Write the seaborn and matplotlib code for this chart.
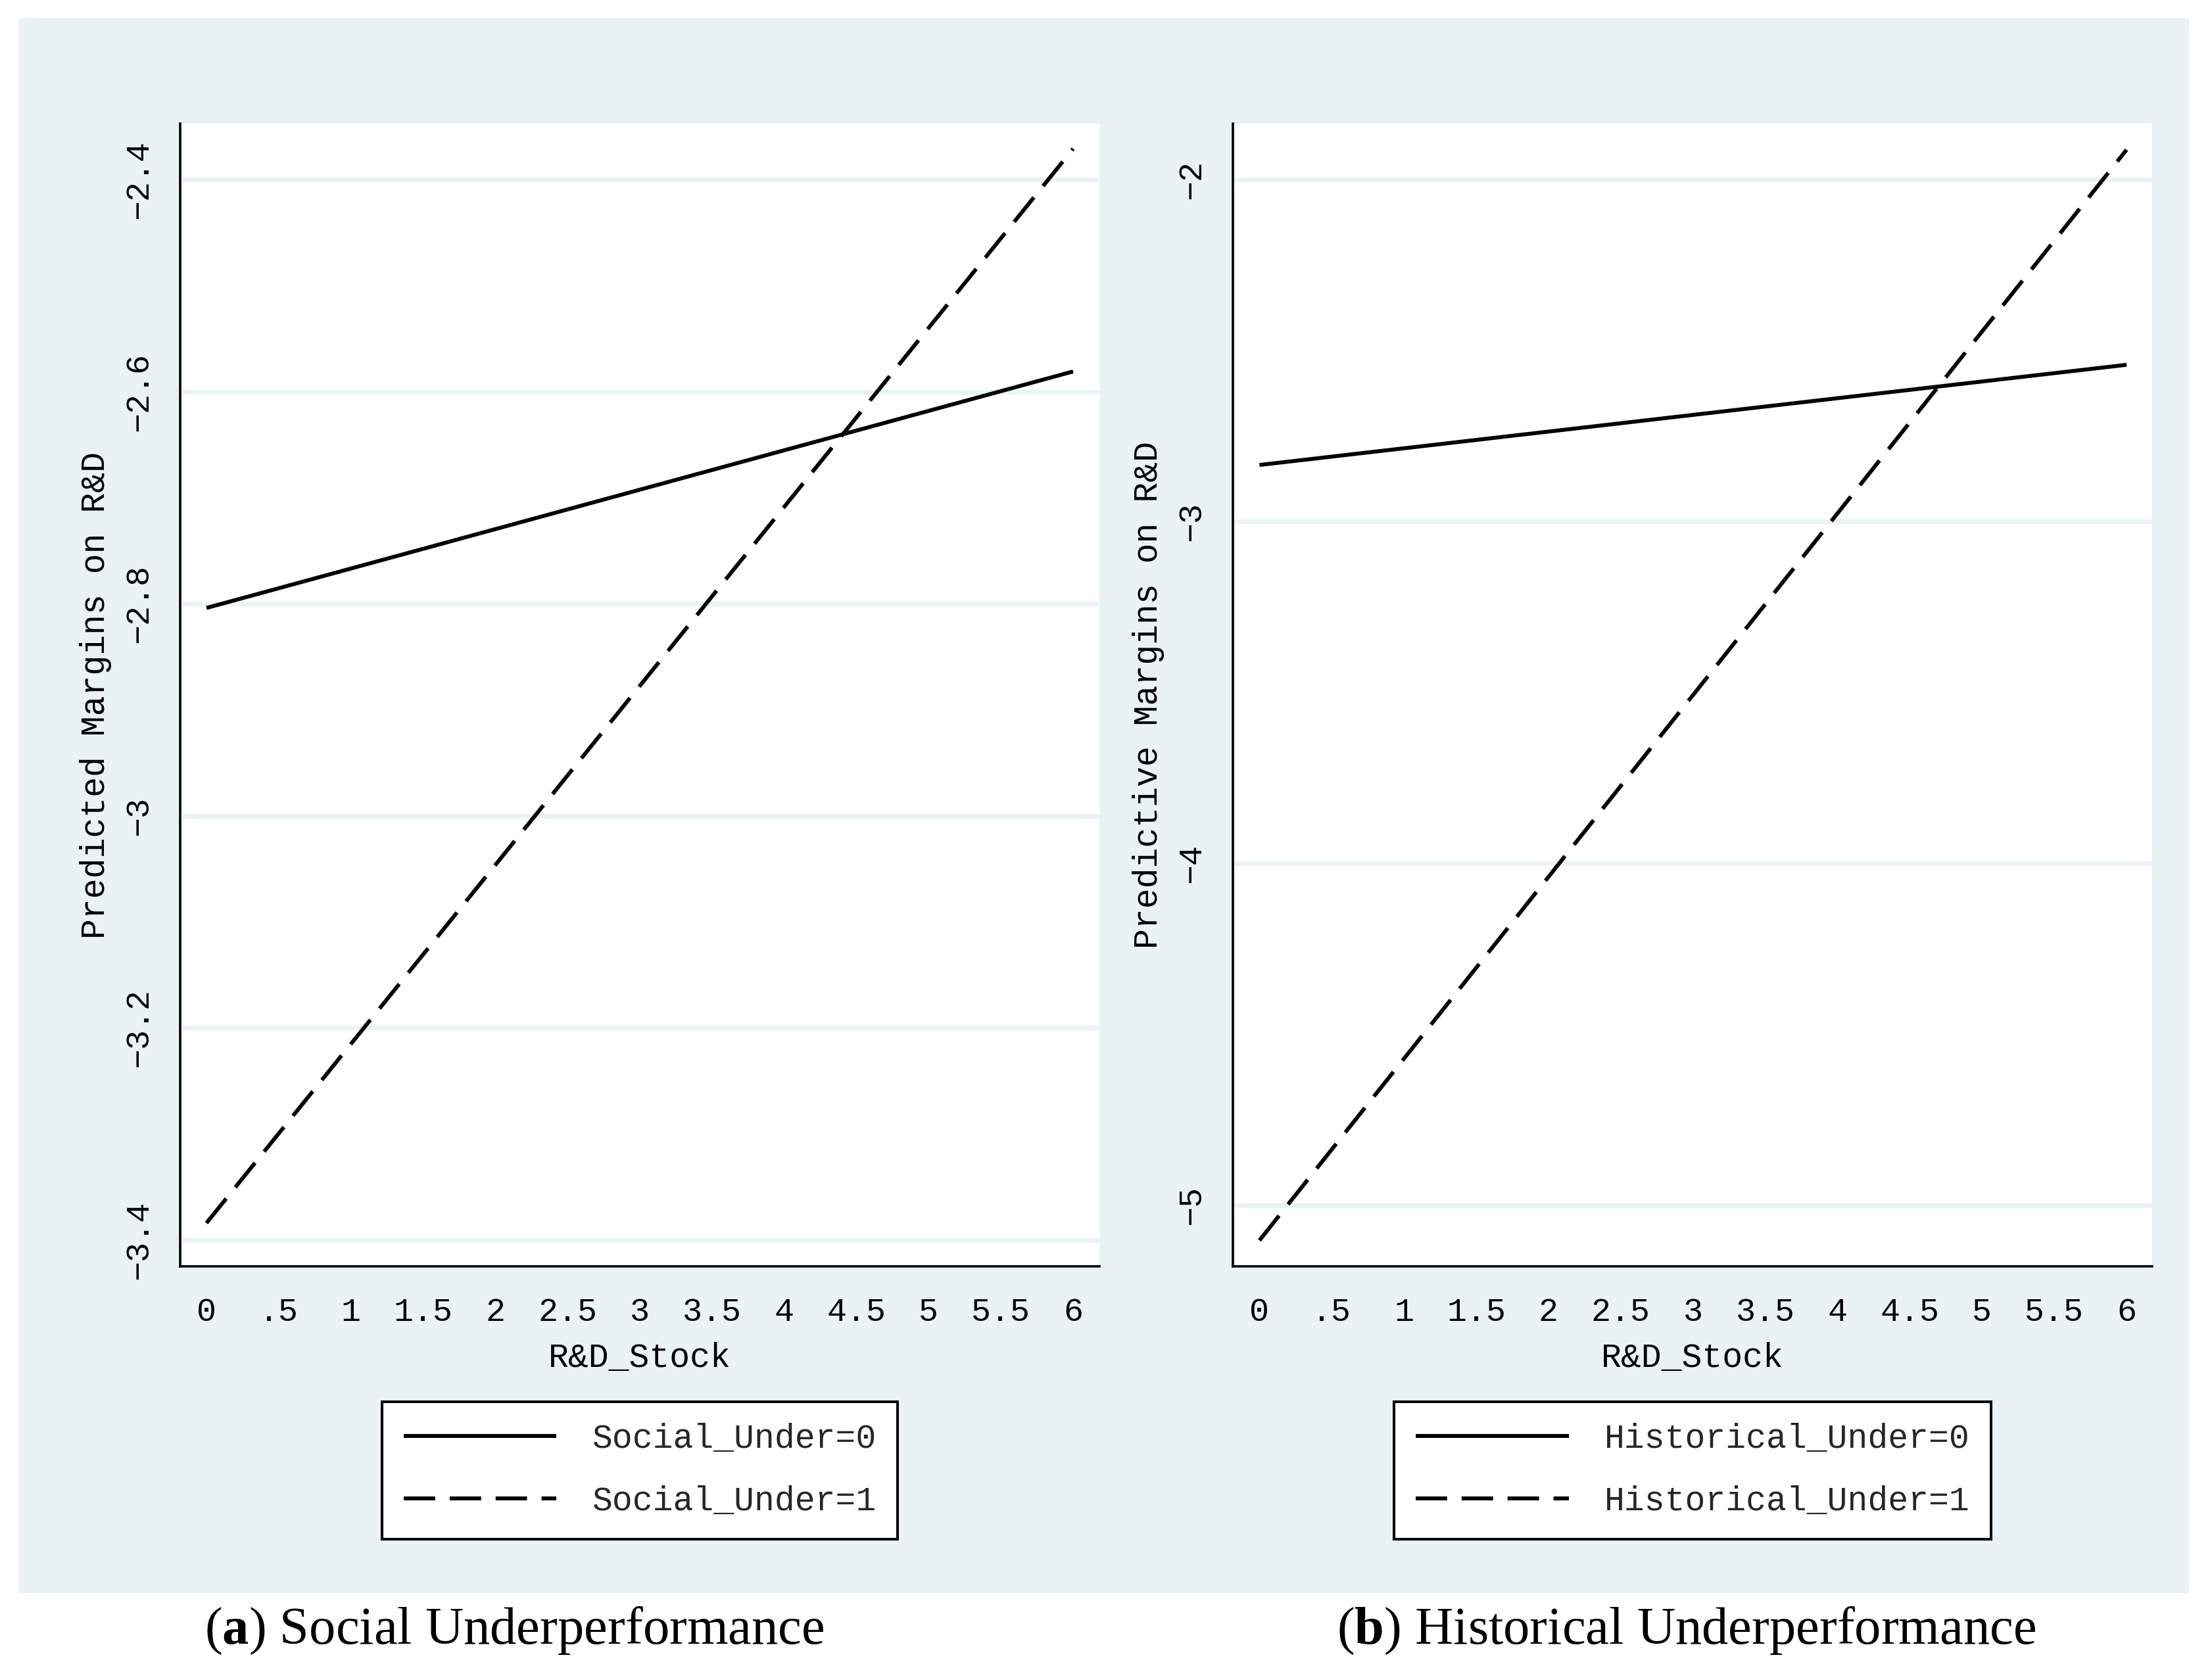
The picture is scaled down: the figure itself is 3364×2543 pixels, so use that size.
import numpy as np
import pandas as pd
import matplotlib
matplotlib.use("Agg")
import matplotlib.pyplot as plt
import seaborn as sns
from matplotlib.patches import Rectangle
from matplotlib.lines import Line2D

# ---------------- data ----------------
rd_stock = [0, 6]
social_under0 = [-2.804, -2.581]
social_under1 = [-3.384, -2.371]
hist_under0 = [-2.835, -2.542]
hist_under1 = [-5.103, -1.913]

x_ticks = [0, 0.5, 1, 1.5, 2, 2.5, 3, 3.5, 4, 4.5, 5, 5.5, 6]
x_tick_labels = ["0", ".5", "1", "1.5", "2", "2.5", "3", "3.5", "4", "4.5", "5", "5.5", "6"]
social_yticks = [-3.4, -3.2, -3.0, -2.8, -2.6, -2.4]
social_ytick_labels = ["\u22123.4", "\u22123.2", "\u22123", "\u22122.8", "\u22122.6", "\u22122.4"]
hist_yticks = [-5, -4, -3, -2]
hist_ytick_labels = ["\u22125", "\u22124", "\u22123", "\u22122"]

social_labels = ["Social_Under=0", "Social_Under=1"]
hist_labels = ["Historical_Under=0", "Historical_Under=1"]
ylabels = ["Predicted Margins on R&D", "Predictive Margins on R&D"]
xlabel = "R&D_Stock"
captions = [r"($\mathbf{a}$) Social Underperformance", r"($\mathbf{b}$) Historical Underperformance"]

# ---------------- style ----------------
sns.set_style("white")
plt.rcParams['font.family'] = ['Liberation Mono', 'DejaVu Sans']
plt.rcParams['mathtext.fontset'] = 'custom'
plt.rcParams['mathtext.rm'] = 'Liberation Serif'
plt.rcParams['mathtext.bf'] = 'Liberation Serif:bold'
plt.rcParams['lines.solid_capstyle'] = 'butt'
plt.rcParams['lines.dash_capstyle'] = 'butt'
plt.rcParams['axes.unicode_minus'] = True

BG = "#EAF2F3"
W, H = 3364, 2543
LW = 4.3
DASH = (8, 3.7)

fig = plt.figure(figsize=(W / 100, H / 100), dpi=100)
fig.patch.set_facecolor("white")
fig.patches.append(Rectangle((28 / W, 1 - 2423 / H), (3329 - 28) / W, (2423 - 28) / H,
                             transform=fig.transFigure, facecolor=BG, edgecolor='none', zorder=-10))


def frac(x0, y0, x1, y1):
    return [x0 / W, 1 - y1 / H, (x1 - x0) / W, (y1 - y0) / H]


panels = [
    dict(rect=(274, 188, 1672, 1926), y0=social_under0, y1=social_under1, labels=social_labels,
         yticks=social_yticks, yticklabels=social_ytick_labels, ylim=(-3.4248, -2.3473),
         xlim=(-0.182, 6.182), ylabel=ylabels[0], caption=captions[0], cap_x=782),
    dict(rect=(1875, 188, 3273, 1926), y0=hist_under0, y1=hist_under1, labels=hist_labels,
         yticks=hist_yticks, yticklabels=hist_ytick_labels, ylim=(-5.179, -1.8365),
         xlim=(-0.184, 6.177), ylabel=ylabels[1], caption=captions[1], cap_x=2565),
]

for p in panels:
    ax = fig.add_axes(frac(*p['rect']))
    ax.set_facecolor("white")
    df = pd.DataFrame({
        "R&D_Stock": rd_stock + rd_stock,
        "margin": p['y0'] + p['y1'],
        "group": [p['labels'][0]] * len(rd_stock) + [p['labels'][1]] * len(rd_stock),
    })
    sns.lineplot(data=df, x="R&D_Stock", y="margin", style="group",
                 dashes={p['labels'][0]: "", p['labels'][1]: DASH},
                 color="black", linewidth=LW, ax=ax, legend=False,
                 estimator=None, sort=False)

    ax.set_xlim(*p['xlim'])
    ax.set_ylim(*p['ylim'])
    ax.set_xticks(x_ticks, x_tick_labels)
    ax.set_yticks(p['yticks'], p['yticklabels'])
    ax.tick_params(axis='both', direction='out', length=18, width=2.8, color='black',
                   labelsize=36, labelcolor='black')
    ax.tick_params(axis='x', pad=16)
    ax.tick_params(axis='y', pad=11, labelrotation=90)
    for lab in ax.get_yticklabels():
        lab.set_va('center')

    ax.yaxis.grid(True, color=BG, linewidth=4.8)
    ax.xaxis.grid(False)
    ax.set_axisbelow(True)

    for s in ['top', 'right']:
        ax.spines[s].set_visible(False)
    for s in ['left', 'bottom']:
        ax.spines[s].set_color('black')
        ax.spines[s].set_linewidth(2.6)

    ax.set_xlabel(xlabel, fontsize=37, labelpad=15.5, color='black')
    ax.set_ylabel(p['ylabel'], fontsize=37, labelpad=13, color='black')

    x0, y0, x1, y1 = p['rect']
    cx = (x0 + x1) / 2
    handles = [Line2D([], [], color='black', lw=LW),
               Line2D([], [], color='black', lw=LW, dashes=DASH)]
    leg = ax.legend(handles, p['labels'], loc='upper center',
                    bbox_to_anchor=(cx / W, 1 - 2132 / H), bbox_transform=fig.transFigure,
                    frameon=True, fancybox=False, shadow=False, framealpha=1,
                    facecolor='white', edgecolor='black', borderpad=0.63,
                    handlelength=4.53, handletextpad=1.05, labelspacing=0.895,
                    borderaxespad=0, fontsize=37)
    leg.get_frame().set_linewidth(2.9)

    fig.text(p['cap_x'] / W, 1 - 2500 / H, p['caption'], fontfamily='Liberation Serif',
             fontsize=58, ha='center', va='baseline', color='black')

fig.savefig("out.png", dpi=100, facecolor='white')
